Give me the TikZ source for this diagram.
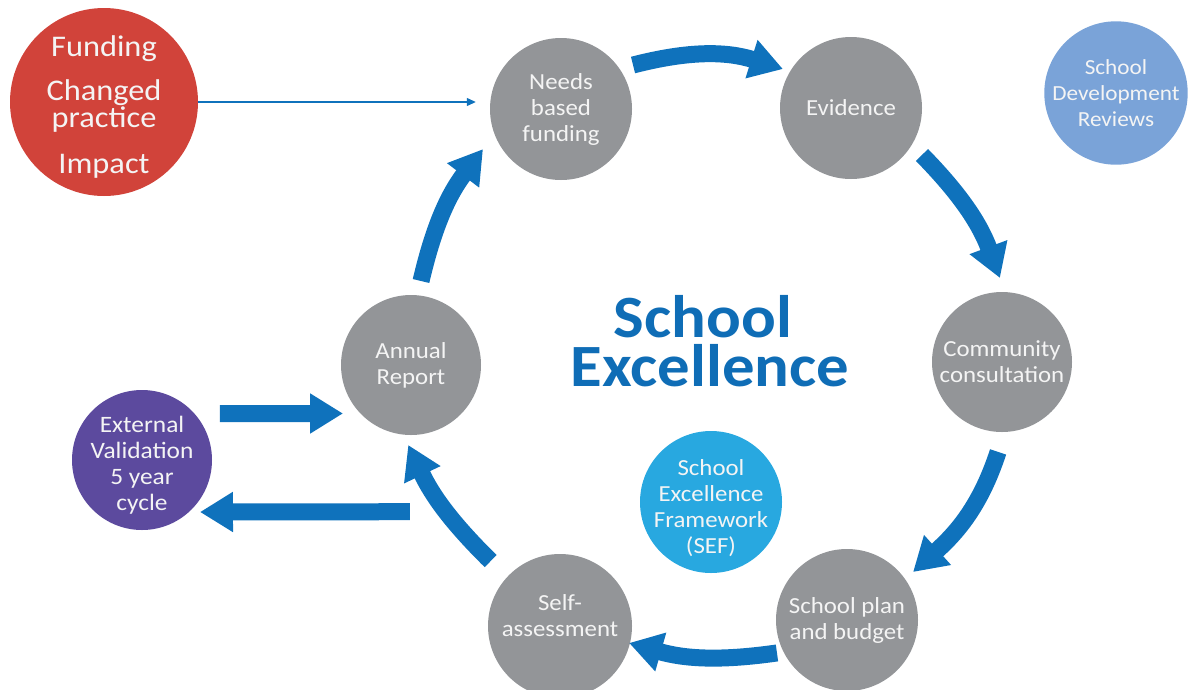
\documentclass[tikz,border=0pt]{standalone}
\usepackage{fontspec}
\setmainfont{Carlito}[FakeStretch=1.08]
\usetikzlibrary{arrows.meta}
\definecolor{cgray}{HTML}{939598}
\definecolor{ctext}{HTML}{F4F4F4}
\definecolor{cred}{HTML}{D1433A}
\definecolor{cpurple}{HTML}{5C4A9E}
\definecolor{ccyan}{HTML}{28A8E0}
\definecolor{csdr}{HTML}{7AA3D8}
\definecolor{carrow}{HTML}{0F72BC}
\definecolor{ctitle}{HTML}{0F6DB6}
\begin{document}
\begin{tikzpicture}[x=1pt,y=1pt,
  circ/.style={circle, fill=cgray, text=ctext, minimum size=142pt, inner sep=0pt, align=center, font=\fontsize{23}{26}\selectfont},
  bigarrow/.style={draw=carrow, line width=17pt, -{Triangle[length=33pt,width=38pt]}},
  thinarrow/.style={draw=carrow, line width=1.2pt, -{Triangle[length=9pt,width=8pt]}},
  txt/.style={text=ctext, align=center, inner sep=0pt, font=\fontsize{23}{26}\selectfont},
  titletxt/.style={text=ctitle, anchor=base, inner sep=0pt, font=\fontsize{60}{60}\bfseries\selectfont},
]
\useasboundingbox (0,0) rectangle (1189,-689);

% circles
\node[circ, fill=cred, minimum size=188pt] (red) at (104,-102) {};
\node[txt, font=\fontsize{30}{27.5}\selectfont] (redtext) at ([yshift=-5pt]red.center) {Funding\\[16.5pt]Changed\\practice\\[18.5pt]Impact};
\node[circ] (needs) at (561,-109) {Needs\\based\\funding};
\node[circ] (evidence) at (851,-108) {Evidence};
\node[circ, fill=csdr, font=\fontsize{21.5}{26}\selectfont] (sdr) at (1116,-93) {School\\Development\\Reviews};
\node[circ, minimum size=140pt] (community) at (1002,-362) {Community\\consultation};
\node[circ, minimum size=140pt] (annual) at (411,-365) {Annual\\Report};
\node[circ, fill=cpurple, minimum size=140pt] (external) at (142,-460) {};
\node[txt, font=\fontsize{23.5}{26}\selectfont] (exttext) at ([yshift=-5pt]external.center) {External\\Validation\\5 year\\cycle};
\node[circ, fill=ccyan] (sef) at (711,-502) {};
\node[txt] (seftext) at ([yshift=-6pt]sef.center) {School\\Excellence\\Framework\\(SEF)};
\node[circ] (plan) at (847,-620) {School plan\\and budget};
\node[circ, minimum size=144pt] (self) at (560,-626) {};
\node[txt] (selftext) at ([yshift=10pt]self.center) {Self-\\assessment};

% title
\node[titletxt] (title1) at (703,-337) {School};
\node[titletxt] (title2) at (710,-386) {Excellence};

% thin arrow
\draw[thinarrow] (red.east) -- ([xshift=-14pt]needs.west |- red.east);

% cycle arrows
\draw[bigarrow] ([shift={(31.4:84.4pt)}]needs.center) to[out=14.5,in=162.5] ([shift={(150.2:78.4pt)}]evidence.center);
\draw[bigarrow] ([shift={(-33.5:85.1pt)}]evidence.center) to[out=-45.6,in=110.4] ([shift={(91.4:84pt)}]community.center);
\draw[bigarrow] ([shift={(-92.5:90pt)}]community.center) to[out=-108,in=42] ([shift={(36:81.6pt)}]plan.center);
\draw[bigarrow] ([shift={(-154.8:77.4pt)}]plan.center) to[out=-171.9,in=-15.9] ([shift={(-13.8:71.1pt)}]self.center);
\draw[bigarrow] ([shift={(136.9:95pt)}]self.center) to[out=135.4,in=-64.6] ([shift={(-92:80pt)}]annual.center);
\draw[bigarrow] ([shift={(83.2:84.6pt)}]annual.center) to[out=76.8,in=-127.2] ([shift={(-152.8:87.7pt)}]needs.center);

% straight arrows
\draw[bigarrow] ([shift={(30.8:90.8pt)}]external.center) -- ([shift={(-144.5:83.5pt)}]annual.center);
\draw[bigarrow] ([shift={(-90.4:146.7pt)}]annual.center) -- ([shift={(-41.9:77.9pt)}]external.center);
\end{tikzpicture}
\end{document}
